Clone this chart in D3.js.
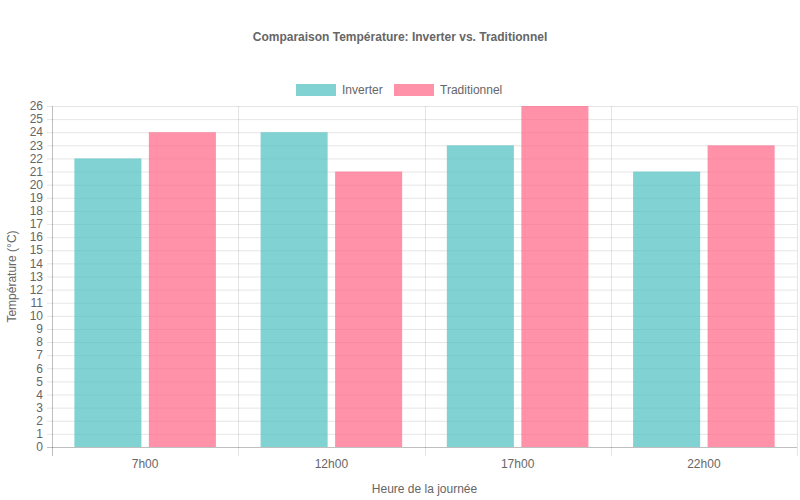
<!DOCTYPE html>
<html><head><meta charset="utf-8">
<script src="https://cdn.jsdelivr.net/npm/d3@7"></script>
<style>body{margin:0;background:#fff}svg{display:block;font-family:"Liberation Sans",Arial,sans-serif}</style>
</head><body><svg id="c" width="800" height="500"></svg>
<script>
const categories = ["7h00","12h00","17h00","22h00"];
const seriesNames = ["Inverter","Traditionnel"];
const inverter = [22,24,23,21];
const traditionnel = [24,21,26,23];
const yMax = 26;

const svg = d3.select("#c");
const m = {l:52, r:797, t:106, b:447};
const fills = ["rgba(75,192,192,0.7)","rgba(255,99,132,0.7)"];
const grid = "rgba(0,0,0,0.1)";

const x = d3.scaleBand().domain(categories).range([m.l,m.r]).padding(0);
const inner = d3.scaleBand().domain(seriesNames).range([0,x.bandwidth()*0.8]);
const y = d3.scaleLinear().domain([0,yMax]).range([m.b,m.t]);
const yTicks = d3.range(0,yMax+1);

// horizontal grid + left tick marks
svg.append("g").selectAll("line").data(yTicks).join("line")
  .attr("x1",m.l-5).attr("x2",m.r).attr("y1",d=>y(d)+0.5).attr("y2",d=>y(d)+0.5)
  .attr("stroke",d=>d===0?"rgba(0,0,0,0.25)":grid).attr("stroke-width",1);
// vertical grid
const xb = categories.map(c=>x(c)).concat([m.r]);
svg.append("g").selectAll("line").data(xb).join("line")
  .attr("x1",d=>Math.round(d)+0.5).attr("x2",d=>Math.round(d)+0.5)
  .attr("y1",m.t).attr("y2",m.b+9)
  .attr("stroke",(d,i)=>i===0?"rgba(0,0,0,0.25)":grid);

// y labels
svg.append("g").selectAll("text").data(yTicks).join("text")
  .attr("x",m.l-9).attr("y",d=>y(d)).attr("dy","0.35em").attr("text-anchor","end")
  .attr("font-size",12).attr("fill","#666").text(d=>d);
// x labels
svg.append("g").selectAll("text").data(categories).join("text")
  .attr("x",d=>x(d)+x.bandwidth()/2).attr("y",m.b+17).attr("dy","0.35em").attr("text-anchor","middle")
  .attr("font-size",12).attr("fill","#666").text(d=>d);

// bars
const data = [inverter, traditionnel];
data.forEach((vals,si)=>{
  const bw = inner.bandwidth()*0.9;
  svg.append("g").selectAll("rect").data(categories).join("rect")
    .attr("x",(c)=>x(c)+x.bandwidth()*0.1+inner(seriesNames[si])+inner.bandwidth()*0.05)
    .attr("width",bw)
    .attr("y",(c,i)=>y(vals[i]))
    .attr("height",(c,i)=>y(0)-y(vals[i]))
    .attr("fill",fills[si]);
});

// title
svg.append("text").attr("x",400).attr("y",37).attr("dy","0.35em").attr("text-anchor","middle")
  .attr("font-size",12).attr("font-weight","bold").attr("fill","#666")
  .text("Comparaison Température: Inverter vs. Traditionnel");

// legend
const leg = [{n:"Inverter",x:296},{n:"Traditionnel",x:394}];
leg.forEach((l,i)=>{
  svg.append("rect").attr("x",l.x).attr("y",84).attr("width",40).attr("height",12).attr("fill",fills[i]);
  svg.append("text").attr("x",l.x+46).attr("y",90).attr("dy","0.35em").attr("font-size",12).attr("fill","#666").text(l.n);
});

// axis titles
svg.append("text").attr("x",(m.l+m.r)/2).attr("y",489).attr("dy","0.35em").attr("text-anchor","middle")
  .attr("font-size",12).attr("fill","#666").text("Heure de la journée");
svg.append("text").attr("transform",`translate(12,${(m.t+m.b)/2}) rotate(-90)`).attr("dy","0.35em")
  .attr("text-anchor","middle").attr("font-size",12).attr("fill","#666").text("Température (°C)");
</script></body></html>
